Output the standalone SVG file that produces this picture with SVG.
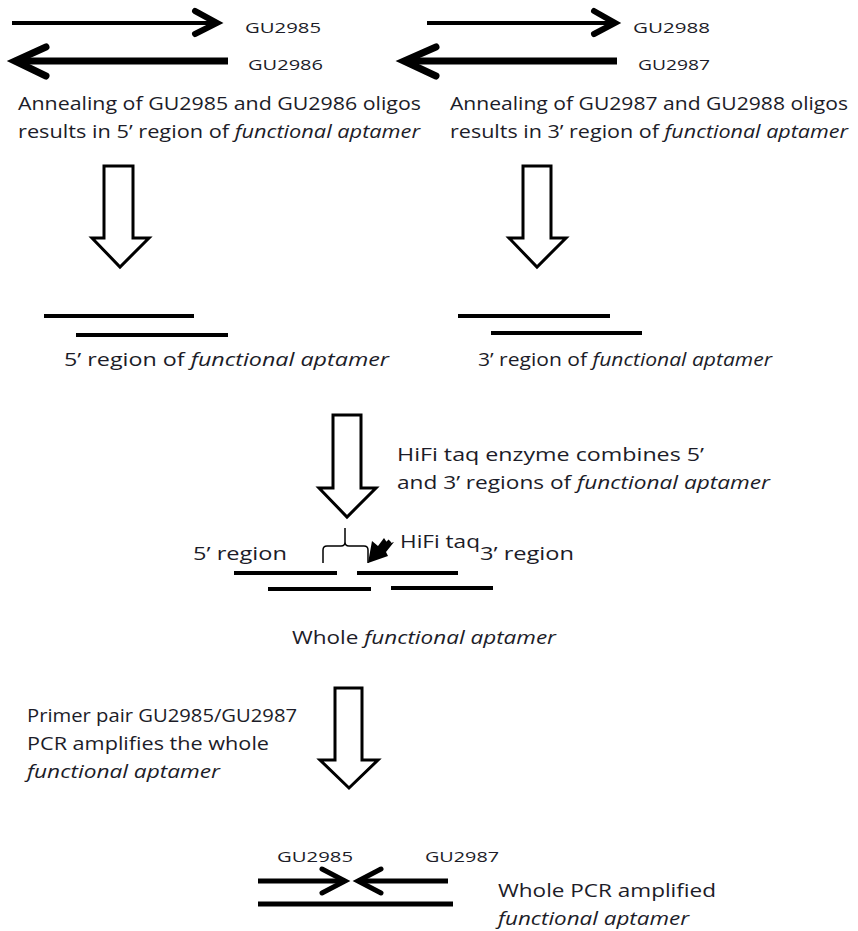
<svg xmlns="http://www.w3.org/2000/svg" width="858" height="931" viewBox="0 0 858 931">
<style>
text{font-family:"Open Sans","Liberation Sans",sans-serif;fill:#1c1c28;font-size:18px}
.s{font-size:14.5px}
.i{font-style:italic}
.ln{stroke:#000;fill:none;stroke-linecap:butt}
.hd{stroke:#000;fill:none;stroke-linecap:round;stroke-linejoin:miter}
.ha{fill:#fff;stroke:#000;stroke-width:3;stroke-linejoin:miter}
</style>
<rect width="858" height="931" fill="#fff"/>
<g id="oligos-left">
<line class="ln" x1="12" y1="23" x2="214" y2="23" stroke-width="4"/>
<polyline class="hd" points="195,11 217,23 195,34" stroke-width="6"/>
<line class="ln" x1="228" y1="61" x2="16" y2="61" stroke-width="7"/>
<polyline class="hd" points="46,47 15,61 46,76" stroke-width="7"/>
<text class="s" x="245" y="33" textLength="76" lengthAdjust="spacingAndGlyphs">GU2985</text>
<text class="s" x="248" y="70" textLength="75" lengthAdjust="spacingAndGlyphs">GU2986</text>
<text x="18" y="110" textLength="403" lengthAdjust="spacingAndGlyphs">Annealing of GU2985 and GU2986 oligos</text>
<text x="18" y="138" textLength="402" lengthAdjust="spacingAndGlyphs">results in 5’ region of <tspan class="i">functional aptamer</tspan></text>
</g>
<g id="oligos-right">
<line class="ln" x1="427" y1="23" x2="612" y2="23" stroke-width="4"/>
<polyline class="hd" points="594,11 615,23 594,34" stroke-width="6"/>
<line class="ln" x1="617" y1="61" x2="405" y2="61" stroke-width="7"/>
<polyline class="hd" points="436,47 404,61 436,76" stroke-width="7"/>
<text class="s" x="633" y="33" textLength="77" lengthAdjust="spacingAndGlyphs">GU2988</text>
<text class="s" x="638" y="70" textLength="72" lengthAdjust="spacingAndGlyphs">GU2987</text>
<text x="450" y="110" textLength="398" lengthAdjust="spacingAndGlyphs">Annealing of GU2987 and GU2988 oligos</text>
<text x="450" y="138" textLength="398" lengthAdjust="spacingAndGlyphs">results in 3’ region of <tspan class="i">functional aptamer</tspan></text>
</g>
<g id="region5">
<line class="ln" x1="44" y1="316" x2="194" y2="316" stroke-width="4"/>
<line class="ln" x1="76" y1="335" x2="228" y2="335" stroke-width="4"/>
<text x="64" y="366" textLength="325" lengthAdjust="spacingAndGlyphs">5’ region of <tspan class="i">functional aptamer</tspan></text>
</g>
<g id="region3">
<line class="ln" x1="458" y1="316" x2="610" y2="316" stroke-width="4"/>
<line class="ln" x1="491" y1="333" x2="642" y2="333" stroke-width="4"/>
<text x="478" y="366" textLength="294" lengthAdjust="spacingAndGlyphs">3’ region of <tspan class="i">functional aptamer</tspan></text>
</g>
<g id="hifi-step">
<text x="397" y="461" textLength="307" lengthAdjust="spacingAndGlyphs">HiFi taq enzyme combines 5’</text>
<text x="397" y="489" textLength="373" lengthAdjust="spacingAndGlyphs">and 3’ regions of <tspan class="i">functional aptamer</tspan></text>
</g>
<g id="whole">
<text x="193" y="560" textLength="94" lengthAdjust="spacingAndGlyphs">5’ region</text>
<text x="400" y="548" textLength="80" lengthAdjust="spacingAndGlyphs">HiFi taq</text>
<text x="480" y="560" textLength="94" lengthAdjust="spacingAndGlyphs">3’ region</text>
<line class="ln" x1="234" y1="573" x2="337" y2="573" stroke-width="4"/>
<line class="ln" x1="357" y1="573" x2="458" y2="573" stroke-width="4"/>
<line class="ln" x1="268" y1="589" x2="371" y2="589" stroke-width="4"/>
<line class="ln" x1="391" y1="588" x2="493" y2="588" stroke-width="4"/>
<path d="M323,563 V550 Q323,546 327,546 H341 Q345,546 345,542 V528 M345,542 Q345,546 349,546 H364 Q368,546 368,550 V563" fill="none" stroke="#000" stroke-width="1.5"/>
<text x="292" y="644" textLength="264" lengthAdjust="spacingAndGlyphs">Whole <tspan class="i">functional aptamer</tspan></text>
</g>
<g id="pcr-step">
<text x="27" y="722" textLength="270" lengthAdjust="spacingAndGlyphs">Primer pair GU2985/GU2987</text>
<text x="27" y="750" textLength="242" lengthAdjust="spacingAndGlyphs">PCR amplifies the whole</text>
<text class="i" x="27" y="778" textLength="193" lengthAdjust="spacingAndGlyphs">functional aptamer</text>
</g>
<g id="product">
<text class="s" x="277" y="862" textLength="76" lengthAdjust="spacingAndGlyphs">GU2985</text>
<text class="s" x="425" y="862" textLength="74" lengthAdjust="spacingAndGlyphs">GU2987</text>
<line class="ln" x1="258" y1="881" x2="343" y2="881" stroke-width="5"/>
<polyline class="hd" points="322,869 345,881 322,893" stroke-width="5"/>
<line class="ln" x1="448" y1="881" x2="360" y2="881" stroke-width="5"/>
<polyline class="hd" points="381,869 358,881 381,893" stroke-width="5"/>
<line class="ln" x1="258" y1="904" x2="453" y2="904" stroke-width="5"/>
<text x="498" y="897" textLength="218" lengthAdjust="spacingAndGlyphs">Whole PCR amplified</text>
<text class="i" x="498" y="925" textLength="191" lengthAdjust="spacingAndGlyphs">functional aptamer</text>
</g>
<g id="connectors">
<polygon class="ha" points="104,166 133,166 133,238 149,238 120,267 92,238 104,238"/>
<polygon class="ha" points="523,166 551,166 551,238 566,238 537,267 509,238 523,238"/>
<polygon class="ha" points="333,415 361,415 361,488 376,488 347,517 319,488 333,488"/>
<polygon class="ha" points="335,688 362,688 362,760 378,760 349,788 320,760 335,760"/>
<line x1="390" y1="541" x2="371" y2="559" stroke="#000" stroke-width="4"/>
<polygon points="368,563 372,541 378,546 384,538 388,544 394,542 386,552 388,556" fill="#000"/>
</g>
</svg>
